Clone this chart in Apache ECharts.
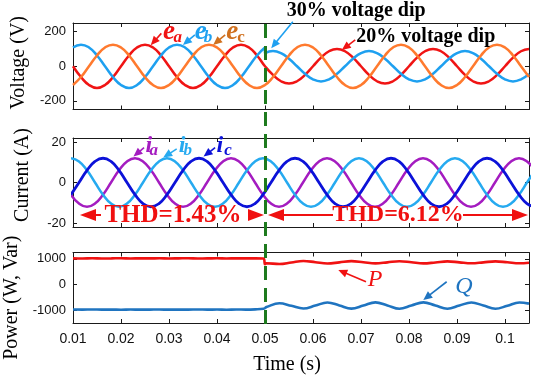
<!DOCTYPE html>
<html><head><meta charset="utf-8">
<script src="https://cdn.jsdelivr.net/npm/echarts@6/dist/echarts.min.js"></script>
<style>html,body{margin:0;padding:0;background:#fff}#c{width:538px;height:379px}</style>
</head><body><div id="c"></div>
<script>
// ---- data ----
const time = [0.01,0.011667,0.013333,0.015,0.016667,0.018333,0.02,0.021667,0.023333,0.025,0.026667,0.028333,
0.03,0.031667,0.033333,0.035,0.036667,0.038333,0.04,0.041667,0.043333,0.045,0.046667,0.048333,
0.05,0.05,
0.051667,0.053333,0.055,0.056667,0.058333,0.06,0.061667,0.063333,0.065,0.066667,0.068333,
0.07,0.071667,0.073333,0.075,0.076667,0.078333,0.08,0.081667,0.083333,0.085,0.086667,0.088333,
0.09,0.091667,0.093333,0.095,0.096667,0.098333,0.1,0.101667,0.103333,0.105];

const ea = [0,-62.5,-108.3,-125,-108.3,-62.5,0,62.5,108.3,125,108.3,62.5,
0,-62.5,-108.3,-125,-108.3,-62.5,0,62.5,108.3,125,108.3,62.5,
0,0,
-50,-86.6,-100,-86.6,-50,0,50,86.6,100,86.6,50,
0,-50,-86.6,-100,-86.6,-50,0,50,86.6,100,86.6,50,
0,-50,-86.6,-100,-86.6,-50,0,50,86.6,100];

const eb = [108.3,125,108.3,62.5,0,-62.5,-108.3,-125,-108.3,-62.5,0,62.5,
108.3,125,108.3,62.5,0,-62.5,-108.3,-125,-108.3,-62.5,0,62.5,
108.3,75.8,
87.5,75.8,43.8,0,-43.8,-75.8,-87.5,-75.8,-43.8,0,43.8,
75.8,87.5,75.8,43.8,0,-43.8,-75.8,-87.5,-75.8,-43.8,0,43.8,
75.8,87.5,75.8,43.8,0,-43.8,-75.8,-87.5,-75.8,-43.8];

const ec = [-108.3,-62.5,0,62.5,108.3,125,108.3,62.5,0,-62.5,-108.3,-125,
-108.3,-62.5,0,62.5,108.3,125,108.3,62.5,0,-62.5,-108.3,-125,
-108.3,-108.3,
-62.5,0,62.5,108.3,125,108.3,62.5,0,-62.5,-108.3,-125,
-108.3,-62.5,0,62.5,108.3,125,108.3,62.5,0,-62.5,-108.3,-125,
-108.3,-62.5,0,62.5,108.3,125,108.3,62.5,0,-62.5];

const iTime = [0.009583,0.01125,0.012917,0.014583,0.01625,0.017917,0.019583,0.02125,0.022917,0.024583,0.02625,0.027917,
0.029583,0.03125,0.032917,0.034583,0.03625,0.037917,0.039583,0.04125,0.042917,0.044583,0.04625,0.047917,
0.049583,0.05125,0.052917,0.054583,0.05625,0.057917,0.059583,0.06125,0.062917,0.064583,0.06625,0.067917,
0.069583,0.07125,0.072917,0.074583,0.07625,0.077917,0.079583,0.08125,0.082917,0.084583,0.08625,0.087917,
0.089583,0.09125,0.092917,0.094583,0.09625,0.097917,0.099583,0.10125,0.102917,0.104583,0.10625];

const ia = [-6,-10.39,-12,-10.39,-6,0,6,10.39,12,10.39,6,0,
-6,-10.39,-12,-10.39,-6,0,6,10.39,12,10.39,6,0,
-6,-10.39,-12,-10.39,-6,0,6,10.39,12,10.39,6,0,
-6,-10.39,-12,-10.39,-6,0,6,10.39,12,10.39,6,0,
-6,-10.39,-12,-10.39,-6,0,6,10.39,12,10.39,6];

const ib = [12,10.39,6,0,-6,-10.39,-12,-10.39,-6,0,6,10.39,
12,10.39,6,0,-6,-10.39,-12,-10.39,-6,0,6,10.39,
12,10.39,6,0,-6,-10.39,-12,-10.39,-6,0,6,10.39,
12,10.39,6,0,-6,-10.39,-12,-10.39,-6,0,6,10.39,
12,10.39,6,0,-6,-10.39,-12,-10.39,-6,0,6];

const ic = [-6,0,6,10.39,12,10.39,6,0,-6,-10.39,-12,-10.39,
-6,0,6,10.39,12,10.39,6,0,-6,-10.39,-12,-10.39,
-6,0,6,10.39,12,10.39,6,0,-6,-10.39,-12,-10.39,
-6,0,6,10.39,12,10.39,6,0,-6,-10.39,-12,-10.39,
-6,0,6,10.39,12,10.39,6,0,-6,-10.39,-12];

const pqTime = [0.010,0.012,0.014,0.016,0.018,0.020,0.022,0.024,0.026,0.028,0.030,0.032,0.034,0.036,0.038,0.040,0.042,0.044,0.046,0.048,
0.0497,0.0500,0.0503,
0.0530,0.0555,0.0580,0.0605,0.0630,0.0655,0.0680,0.0705,0.0730,0.0755,0.0780,0.0805,0.0830,0.0855,0.0880,0.0905,0.0930,0.0955,0.0980,0.1005,0.1030,
0.1050];
const P = [1022,1015,1025,1018,1020,1026,1016,1022,1019,1024,1017,1021,1025,1018,1020,1023,1016,1022,1019,1020,
1015,790,830,
800,860,920,870,820,865,915,870,825,865,910,868,825,862,905,865,828,865,905,868,830,
850];
const Q = [-975,-980,-972,-978,-976,-982,-974,-979,-977,-973,-980,-976,-978,-972,-979,-975,-981,-974,-977,-968,
-945,-915,-880,
-730,-830,-935,-820,-700,-815,-940,-820,-695,-815,-945,-820,-695,-820,-945,-820,-700,-820,-945,-825,-700,
-745];

const xTicks = [0.01,0.02,0.03,0.04,0.05,0.06,0.07,0.08,0.09,0.1];
const vTicks = [-200,0,200];
const iTicks = [-20,0,20];
const pTicks = [-1000,0,1000];
const dipTime = 0.05;

// ---- style ----
const SERIF = '"Liberation Serif","Times New Roman",serif';
const SANS = '"Liberation Sans",Arial,sans-serif';
const AX = '#1a1a1a';
const C = {ea:'#f01414', eb:'#1ea0f0', ec:'#ff7a2e', ecTxt:'#d0701e', ia:'#a41cc0', ib:'#26aaf0', ic:'#0c12d8', P:'#f01212', Q:'#1f74c0', dip:'#1e7a1e'};

const panels = [
  {top:23, height:86.5, min:-250, max:250, ticks:vTicks, name:'Voltage (V)', pad:[0,0,0,7]},
  {top:138, height:89, min:-22, max:22, ticks:iTicks, name:'Current (A)', pad:[0,0,0,15]},
  {top:252.5, height:70.5, min:-1500, max:1250, ticks:pTicks, name:'Power (W, Var)', pad:[0,20,0,0]}
];

const grid = [], xAxis = [], yAxis = [];
panels.forEach((p, g) => {
  grid.push({left:73, right:9, top:p.top, height:p.height, containLabel:false, outerBoundsMode:'none'});
  [['bottom', g === 2], ['top', false]].forEach(([pos, lab]) => {
    xAxis.push({type:'value', gridIndex:g, position:pos, min:0.01, max:0.105,
      axisLine:{show:true, onZero:false, lineStyle:{color:AX, width:1}},
      axisTick:{show:true, inside:true, length:4, customValues:xTicks, lineStyle:{color:AX}},
      axisLabel:{show:lab, customValues:xTicks, margin:9, color:'#111', fontFamily:SANS, fontSize:14, formatter:v => String(v)},
      splitLine:{show:false},
      name: lab ? 'Time (s)' : '', nameLocation:'middle', nameGap:32,
      nameTextStyle:{fontFamily:SERIF, fontSize:20, color:'#000', padding:[0,28,0,0]}
    });
  });
  [['left', true], ['right', false]].forEach(([pos, lab]) => {
    yAxis.push({type:'value', gridIndex:g, position:pos, min:p.min, max:p.max,
      axisLine:{show:true, onZero:false, lineStyle:{color:AX, width:1}},
      axisTick:{show:true, inside:true, length:4, customValues:p.ticks, lineStyle:{color:AX}},
      axisLabel:{show:lab, customValues:p.ticks, margin:7, color:'#111', fontFamily:SANS, fontSize:13, formatter:v => String(v)},
      splitLine:{show:false},
      name: lab ? p.name : '', nameLocation:'middle', nameGap:40,
      nameTextStyle:{fontFamily:SERIF, fontSize:20, color:'#000', padding:p.pad}
    });
  });
});
// overlay grid for the dip marker line
grid.push({left:73, right:9, top:22, height:302, containLabel:false, outerBoundsMode:'none'});
xAxis.push({type:'value', gridIndex:3, min:0.01, max:0.105, show:false});
yAxis.push({type:'value', gridIndex:3, min:0, max:1, show:false});

function wave(arr, tArr, g, color, width, smooth, clip) {
  return {type:'line', xAxisIndex:2*g, yAxisIndex:2*g, data:tArr.map((t, i) => [t, arr[i]]),
    showSymbol:false, smooth:smooth, lineStyle:{color, width}, itemStyle:{color}, silent:true, clip:clip};
}

const series = [
  wave(ea, time, 0, C.ea, 2.5, true, false),
  wave(eb, time, 0, C.eb, 2.5, true, false),
  wave(ec, time, 0, C.ec, 2.5, true, false),
  wave(ia, iTime, 1, C.ia, 2.5, true, true),
  wave(ib, iTime, 1, C.ib, 2.5, true, true),
  wave(ic, iTime, 1, C.ic, 2.8, true, true),
  wave(P, pqTime, 2, C.P, 2.6, 0.4, false),
  wave(Q, pqTime, 2, C.Q, 2.6, 0.4, false),
  {type:'line', xAxisIndex:6, yAxisIndex:6, data:[[dipTime, 0.5]], showSymbol:false, lineStyle:{opacity:0}, silent:true, z:10,
    markLine:{silent:true, symbol:['none','none'], label:{show:false}, animation:false,
      lineStyle:{color:C.dip, width:3, type:[14,8]}, data:[{xAxis:dipTime}]}}
];

const chart = echarts.init(document.getElementById('c'), null, {renderer:'canvas'});
chart.setOption({animation:false, backgroundColor:'#fff', textStyle:{fontFamily:SANS}, grid, xAxis, yAxis, series});

// ---- annotations, in each panel's data coordinates ----
// [panel, t, value, text, color, fontSize, italic, bold]
const labels = [
  [0,0.0300,196,'e',C.ea,27,true,true],[0,0.0318,166,'a',C.ea,17,true,true],
  [0,0.0366,196,'e',C.eb,27,true,true],[0,0.0381,166,'b',C.eb,17,true,true],
  [0,0.0432,196,'e',C.ecTxt,27,true,true],[0,0.0450,167,'c',C.ecTxt,17,false,true],
  [0,0.0690,319,'30% voltage dip','#000',20,false,true],
  [0,0.0835,169,'20% voltage dip','#000',20,false,true],
  [1,0.0258,18.1,'i',C.ia,24,true,true],[1,0.0268,16.0,'a',C.ia,17,true,true],
  [1,0.0327,18.1,'i',C.ib,24,true,true],[1,0.0339,15.7,'b',C.ib,17,true,true],
  [1,0.0406,18.1,'i',C.ic,24,true,true],[1,0.0423,16.0,'c',C.ic,17,true,true],
  [1,0.03083,-16.1,'THD=1.43%','#f01010',25,false,true],
  [1,0.07771,-16.1,'THD=6.12%','#f01010',24,false,true],
  [2,0.07292,175,'P',C.P,24,true,false],
  [2,0.09146,-86,'Q',C.Q,24,true,false]
];
// [panel, fromT, fromV, toT, toV, color, lineWidth, headLen, headWidth]
const arrows = [
  [0,0.0284,190,0.0262,122,C.ea,1.6,9,8],
  [0,0.0354,181,0.0329,123,C.eb,1.6,9,8],
  [0,0.0417,181,0.0392,123,C.ecTxt,1.6,9,8],
  [0,0.0558,257,0.0513,104,C.eb,1.6,9,8],
  [0,0.0688,152,0.0660,94,C.ea,1.6,9,8],
  [1,0.0248,17.2,0.0226,12.8,C.ia,1.6,9,8],
  [1,0.0316,16.6,0.0288,12.3,C.ib,1.6,9,8],
  [1,0.0396,17.2,0.0372,12.8,C.ic,1.6,9,8],
  [1,0.01583,-16.07,0.01146,-16.07,'#f01010',2,16,12],
  [1,0.04646,-16.07,0.04979,-16.07,'#f01010',2,16,12],
  [1,0.06417,-16.07,0.05063,-16.07,'#f01010',2,16,12],
  [1,0.09125,-16.07,0.10479,-16.07,'#f01010',2,16,12],
  [2,0.07104,109,0.06527,566,C.P,1.6,9,8],
  [2,0.08785,109,0.08298,-605,C.Q,1.6,9,8]
];

function px(g, t, v) { return chart.convertToPixel({xAxisIndex:2*g, yAxisIndex:2*g}, [t, v]); }
const graphic = [];
arrows.forEach(([g, t0, v0, t1, v1, col, w, hl, hw]) => {
  const a = px(g, t0, v0), b = px(g, t1, v1);
  const dx = b[0]-a[0], dy = b[1]-a[1], L = Math.hypot(dx, dy), ux = dx/L, uy = dy/L;
  const bx = b[0]-ux*hl, by = b[1]-uy*hl;
  graphic.push({type:'line', silent:true, z:100, shape:{x1:a[0], y1:a[1], x2:bx+ux*2, y2:by+uy*2}, style:{stroke:col, lineWidth:w}});
  graphic.push({type:'polygon', silent:true, z:100, shape:{points:[[b[0],b[1]],[bx-uy*hw/2, by+ux*hw/2],[bx+uy*hw/2, by-ux*hw/2]]}, style:{fill:col}});
});
labels.forEach(([g, t, v, text, col, fs, it, bd]) => {
  const p = px(g, t, v);
  graphic.push({type:'text', silent:true, z:101, x:p[0], y:p[1],
    style:{text, fill:col, fontSize:fs, fontFamily:SERIF, fontStyle:it ? 'italic' : 'normal', fontWeight:bd ? 'bold' : 'normal',
      align:'center', verticalAlign:'middle'}});
});
chart.setOption({graphic});
</script>
</body></html>
